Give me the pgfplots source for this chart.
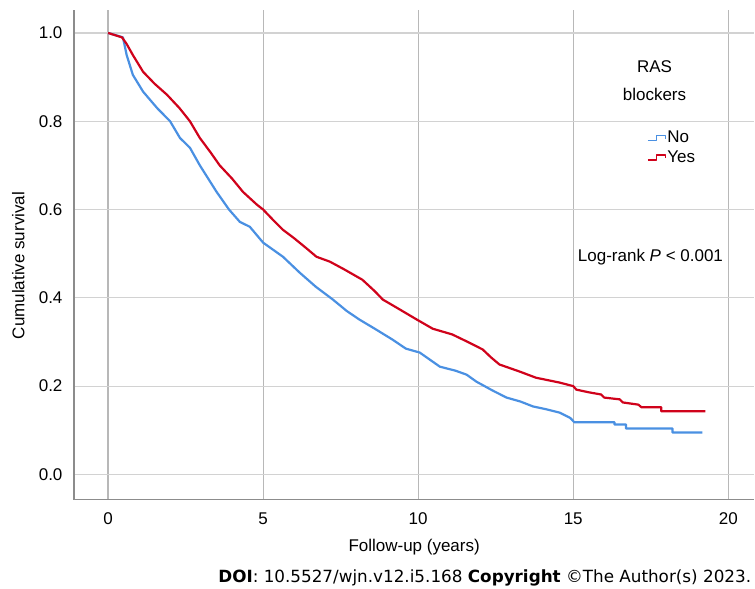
\documentclass[border=0pt]{standalone}
\usepackage{pgfplots}
\pgfplotsset{compat=1.18}
\usepackage{fontspec}
\setmainfont{Liberation Sans}
\newfontfamily\doifont{DejaVu Sans}

\definecolor{noblue}{HTML}{4A90E2}
\definecolor{yesred}{HTML}{D0021B}
\definecolor{vgrid}{HTML}{B8B8B8}
\definecolor{hgrid}{HTML}{D2D2D2}
\definecolor{axgray}{HTML}{8C8C8C}

\begin{document}
\begin{tikzpicture}
\path (0,0) rectangle (755bp,589bp);
\begin{axis}[
  at={(74bp,89bp)}, anchor=south west,
  scale only axis, width=681bp, height=490bp,
  xmin=-1.1, xmax=20.84, ymin=-0.057, ymax=1.052,
  axis x line*=bottom, axis y line*=left,
  axis line style={-, axgray, line width=1.3bp},
  xtick={0,5,10,15,20},
  ytick={0,0.2,0.4,0.6,0.8,1.0},
  major tick length=0pt,
  xmajorgrids, ymajorgrids,
  x grid style={vgrid, line width=1.2bp},
  y grid style={hgrid, line width=1.2bp},
  font=\fontsize{17bp}{20bp}\selectfont,
  /pgf/number format/assume math mode=true,
  yticklabel style={/pgf/number format/fixed, /pgf/number format/fixed zerofill, /pgf/number format/precision=1, xshift=-8bp},
  xticklabel style={yshift=-10bp},
  xlabel={Follow-up (years)},
  ylabel={Cumulative survival},
  xlabel style={at={(axis description cs:0.5,0)}, anchor=north, yshift=-36bp},
  ylabel style={at={(axis description cs:0,0.478)}, anchor=south, yshift=46bp},
  legend style={at={(axis cs:17.38,0.78)}, anchor=north west, draw=none, fill=none,
    font=\fontsize{17bp}{20bp}\selectfont, row sep=4bp, inner sep=0pt,
    nodes={inner sep=1bp}},
  legend cell align=left,
  legend image code/.code={\draw[#1, line width=1.2bp] (0bp,-3bp) -- (9bp,-3bp) -- (9bp,2bp) -- (18bp,2bp) -- (18bp,-1bp);},
]
\addplot[noblue, line width=2.2bp, line join=round] coordinates {
(0,1.0) (0.48,0.99) (0.6,0.95) (0.8,0.905) (1.13,0.867) (1.58,0.83)
(2.0,0.80) (2.32,0.762) (2.64,0.74) (2.96,0.70) (3.5,0.64) (3.9,0.60)
(4.25,0.572) (4.57,0.561) (5.0,0.525) (5.64,0.493) (6.18,0.457) (6.7,0.425)
(7.25,0.396) (7.7,0.37) (8.1,0.351) (8.6,0.33) (9.18,0.305) (9.6,0.285)
(10.05,0.276) (10.7,0.244) (11.2,0.235) (11.56,0.226) (11.88,0.21) (12.4,0.19)
(12.85,0.174) (13.3,0.165) (13.7,0.154) (14.1,0.148) (14.56,0.14) (14.9,0.128)
(15.04,0.118) (16.33,0.118) (16.33,0.113) (16.7,0.113) (16.7,0.104)
(18.2,0.104) (18.2,0.095) (19.16,0.095)
};
\addlegendentry{No}
\addplot[yesred, line width=2.2bp, line join=round] coordinates {
(0,1.0) (0.45,0.99) (0.6,0.975) (0.8,0.95) (1.13,0.912) (1.5,0.885)
(1.9,0.86) (2.3,0.83) (2.64,0.80) (2.96,0.762) (3.3,0.73) (3.6,0.70)
(4.0,0.67) (4.35,0.64) (4.8,0.611) (5.0,0.60) (5.3,0.578) (5.64,0.554)
(6.0,0.535) (6.4,0.512) (6.72,0.493) (7.15,0.482) (7.6,0.465) (8.2,0.441)
(8.6,0.415) (8.86,0.396) (9.3,0.378) (9.95,0.351) (10.47,0.33) (11.1,0.317)
(11.66,0.298) (12.08,0.283) (12.35,0.265) (12.62,0.249) (13.27,0.233) (13.8,0.219)
(14.56,0.208) (15.0,0.2) (15.1,0.192) (15.5,0.186) (15.9,0.181) (16.0,0.174)
(16.5,0.17) (16.6,0.163) (17.1,0.158) (17.2,0.152) (17.84,0.152) (17.84,0.143)
(19.26,0.143)
};
\addlegendentry{Yes}
\node[align=center, font=\fontsize{17bp}{28bp}\selectfont] at (axis cs:17.62,0.891) {RAS\\blockers};
\node[font=\fontsize{17bp}{20bp}\selectfont] at (axis cs:17.49,0.493) {Log-rank \textit{P} < 0.001};
\end{axis}
\node[anchor=base east, font=\doifont\fontsize{16.8bp}{19bp}\selectfont, inner sep=0pt] at (752bp,6bp) {\textbf{DOI}: 10.5527/wjn.v12.i5.168 \textbf{Copyright} ©The Author(s) 2023.};
\end{tikzpicture}
\end{document}
